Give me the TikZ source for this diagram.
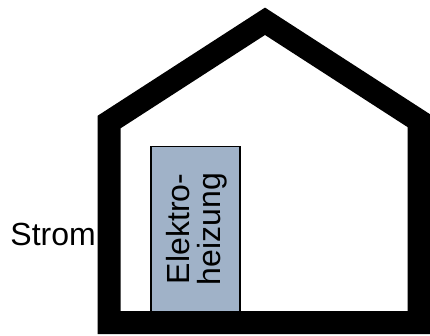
\documentclass[tikz,border=0pt]{standalone}
\usepackage{fontspec}
\setmainfont{Liberation Sans}
\definecolor{heater}{RGB}{160,178,200}
\begin{document}
\begin{tikzpicture}[x=1pt,y=-1pt,
  wall/.style={draw=black,line width=23pt,line join=miter},
  heaterbox/.style={draw=black,line width=1.6pt,fill=heater},
  lbl/.style={inner sep=0pt,font=\fontsize{32}{31}\selectfont}]
\useasboundingbox (0,0) rectangle (430,336);
\fill[white] (0,0) rectangle (430,336);
\draw[heaterbox] (151,146.5) rectangle (240,314);
\node[lbl,rotate=90,align=center] (heat) at (197,229) {Elektro-\\heizung};
\draw[wall] (109,322.5) -- (109,122.1) -- (265,21.3) -- (419,120.8) -- (419,322.5) -- cycle;
\node[lbl,anchor=base east] (strom) at (96,245) {Strom};
\end{tikzpicture}
\end{document}
